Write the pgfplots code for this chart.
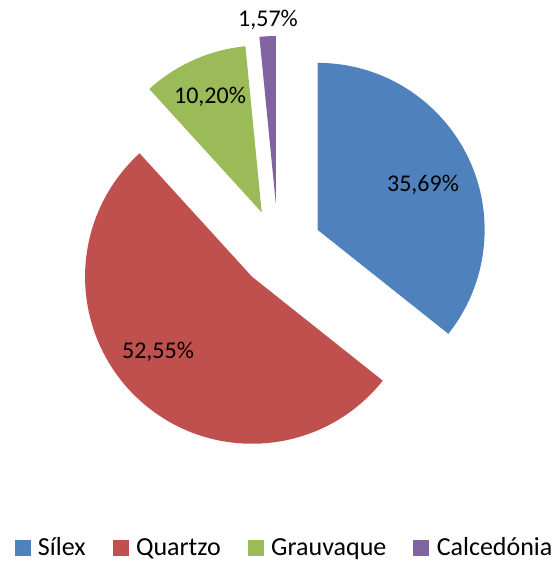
\documentclass[border=0pt]{standalone}
\usepackage{fontspec}
\setmainfont{Carlito}
\usepackage{pgfplots}
\usepackage{pgfplotstable}
\usetikzlibrary{calc}
\pgfplotsset{compat=1.18}

\definecolor{silex}{HTML}{4F81BD}
\definecolor{quartzo}{HTML}{C0504D}
\definecolor{grauvaque}{HTML}{9BBB59}
\definecolor{calcedonia}{HTML}{8064A2}

% share in percent, explode offset in pt
\pgfplotstableread{
name        value  explode
Silex       35.69  44
Quartzo     52.55  38
Grauvaque   10.20  40
Calcedonia  1.57   46
}\piedata

\pgfplotstablegetelem{0}{value}\of\piedata \let\vA\pgfplotsretval
\pgfplotstablegetelem{1}{value}\of\piedata \let\vB\pgfplotsretval
\pgfplotstablegetelem{2}{value}\of\piedata \let\vC\pgfplotsretval
\pgfplotstablegetelem{3}{value}\of\piedata \let\vD\pgfplotsretval
\pgfplotstablegetelem{0}{explode}\of\piedata \let\eA\pgfplotsretval
\pgfplotstablegetelem{1}{explode}\of\piedata \let\eB\pgfplotsretval
\pgfplotstablegetelem{2}{explode}\of\piedata \let\eC\pgfplotsretval
\pgfplotstablegetelem{3}{explode}\of\piedata \let\eD\pgfplotsretval

% slices run clockwise from 12 o'clock
\pgfmathsetmacro\angA{90}
\pgfmathsetmacro\angB{\angA-3.6*\vA}
\pgfmathsetmacro\angC{\angB-3.6*\vB}
\pgfmathsetmacro\angD{\angC-3.6*\vC}
\pgfmathsetmacro\angE{\angD-3.6*\vD}
\pgfmathsetmacro\midA{(\angA+\angB)/2}
\pgfmathsetmacro\midB{(\angB+\angC)/2}
\pgfmathsetmacro\midC{(\angC+\angD)/2}
\pgfmathsetmacro\midD{(\angD+\angE)/2}

\def\rad{167pt}

\begin{document}
\begin{tikzpicture}
\begin{axis}[
    x=1pt, y=1pt,
    xmin=0, xmax=557, ymin=0, ymax=563,
    hide axis, clip=false,
    legend image code/.code={\fill[#1] (0pt,-7.5pt) rectangle (15pt,7.5pt);},
    legend style={at={(axis cs:284.5,15.5)}, anchor=center, draw=none, fill=none,
        legend columns=4, inner sep=0pt,
        font=\fontsize{26}{30}\selectfont,
        /tikz/every odd column/.style={column sep=6pt},
        /tikz/every even column/.style={column sep=25pt}},
]
\path (axis cs:0,0) rectangle (axis cs:557,563);

\fill[silex] ($(axis cs:278,314)+(\midA:\eA pt)$) -- +(\angA:\rad)
    arc[start angle=\angA, end angle=\angB, radius=\rad] -- cycle;
\fill[quartzo] ($(axis cs:278,314)+(\midB:\eB pt)$) -- +(\angB:\rad)
    arc[start angle=\angB, end angle=\angC, radius=\rad] -- cycle;
\fill[grauvaque] ($(axis cs:278,314)+(\midC:\eC pt)$) -- +(\angC:\rad)
    arc[start angle=\angC, end angle=\angD, radius=\rad] -- cycle;
\fill[calcedonia] ($(axis cs:278,314)+(\midD:\eD pt)$) -- +(\angD:\rad)
    arc[start angle=\angD, end angle=\angE, radius=\rad] -- cycle;

\node[font=\fontsize{24}{28}\selectfont] at (axis cs:423,378) {35,69\%};
\node[font=\fontsize{24}{28}\selectfont] at (axis cs:158,211) {52,55\%};
\node[font=\fontsize{24}{28}\selectfont] at (axis cs:210,466) {10,20\%};
\node[font=\fontsize{24}{28}\selectfont] at (axis cs:268,543) {1,57\%};

\addlegendimage{silex}\addlegendentry{Sílex}
\addlegendimage{quartzo}\addlegendentry{Quartzo}
\addlegendimage{grauvaque}\addlegendentry{Grauvaque}
\addlegendimage{calcedonia}\addlegendentry{Calcedónia}
\end{axis}
\end{tikzpicture}
\end{document}
